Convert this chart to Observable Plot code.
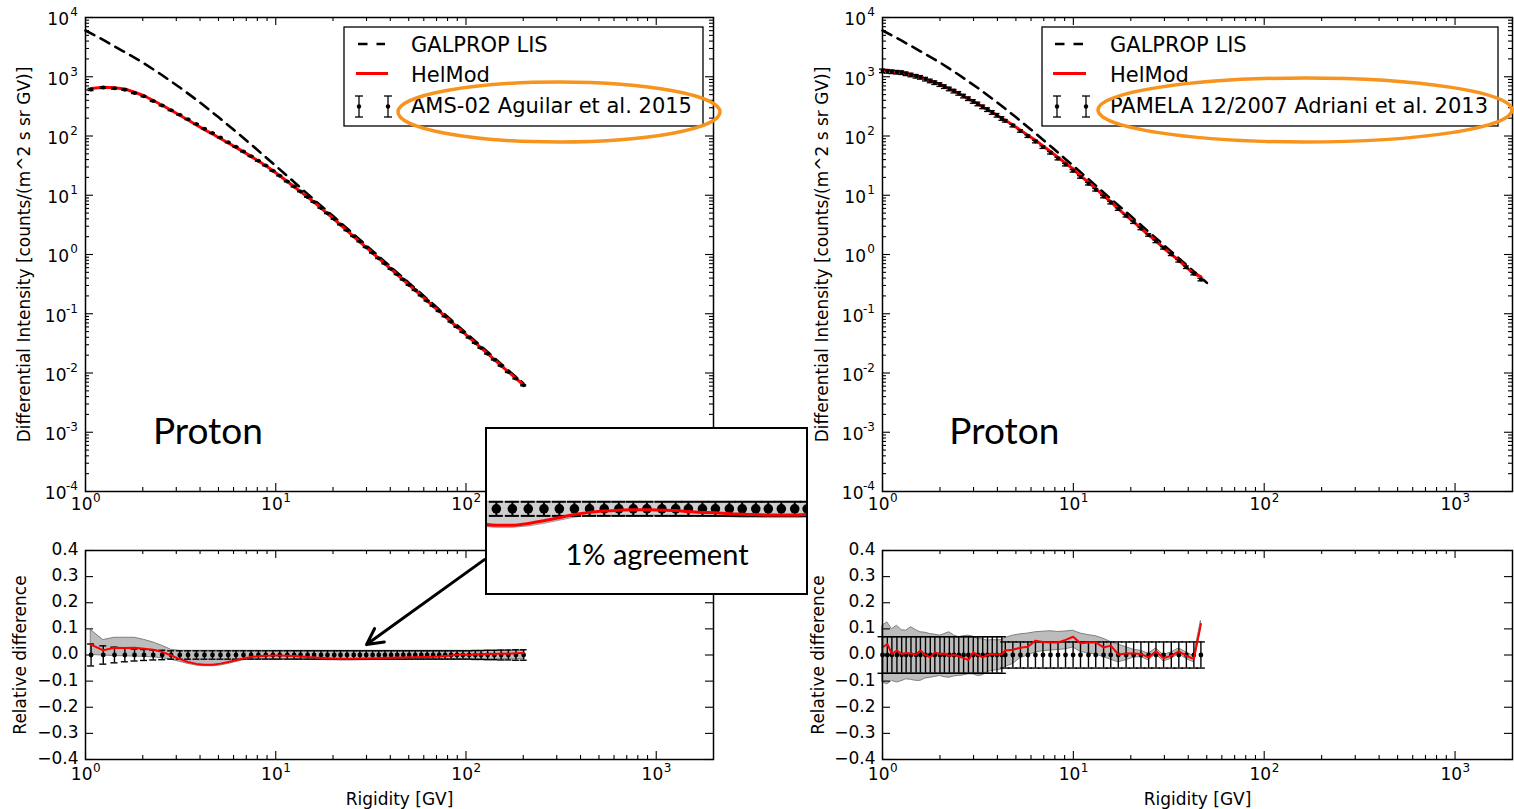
<!DOCTYPE html>
<html><head><meta charset="utf-8">
<script src="https://cdn.jsdelivr.net/npm/d3@7"></script>
<script src="https://cdn.jsdelivr.net/npm/@observablehq/plot@0.6"></script>
<style>
body{margin:0;background:#fff;}
#chart{position:relative;width:1514px;height:809px;overflow:hidden;font-family:"DejaVu Sans",sans-serif;background:#fff;}
</style></head><body><div id="chart"></div>
<script>
// ---------------- data ----------------
// AMS-02 (left panels)
const amsR = [1.07,1.24,1.42,1.61,1.81,2.03,2.27,2.53,2.82,3.13,3.46,3.83,4.22,4.65,5.12,5.63,6.18,6.77,7.42,8.11,8.86,9.67,10.5,11.5,12.5,13.5,14.7,15.9,17.3,18.7,20.3,21.9,23.7,25.7,27.7,29.9,32.3,34.8,37.5,40.4,43.5,46.8,50.3,54.1,58.2,62.5,67.2,72.3,77.7,83.5,89.7,96.4,104,112,120,130,141,153,167,183,201];
const amsFlux = [610,656,637,605,532,467,389,327,272,228,191,159,133,112,94.0,78.2,65.6,54.7,45.7,38.1,31.7,25.9,21.4,17.1,14.0,11.6,9.38,7.71,6.12,4.97,3.98,3.21,2.56,2.04,1.66,1.33,1.07,0.867,0.703,0.571,0.464,0.377,0.306,0.251,0.204,0.166,0.136,0.111,0.0904,0.0734,0.0601,0.0491,0.0396,0.0322,0.0265,0.0211,0.0168,0.0133,0.0104,0.00807,0.00619];
const amsErr = [0.042,0.035,0.030,0.026,0.023,0.021,0.019,0.018,0.016,0.016,0.016,0.016,0.016,0.016,0.016,0.016,0.016,0.016,0.016,0.016,0.016,0.016,0.016,0.016,0.016,0.016,0.016,0.016,0.016,0.016,0.016,0.016,0.016,0.016,0.016,0.016,0.016,0.016,0.016,0.016,0.016,0.016,0.016,0.016,0.016,0.016,0.016,0.016,0.016,0.016,0.016,0.016,0.016,0.017,0.017,0.018,0.018,0.019,0.019,0.020,0.020];
const amsRel = [0.040,0.018,0.028,0.027,0.028,0.024,0.020,0.012,-0.002,-0.016,-0.027,-0.034,-0.037,-0.037,-0.033,-0.027,-0.020,-0.013,-0.008,-0.005,-0.003,-0.002,-0.002,-0.003,-0.004,-0.006,-0.008,-0.009,-0.011,-0.012,-0.013,-0.014,-0.014,-0.014,-0.013,-0.013,-0.012,-0.012,-0.011,-0.011,-0.010,-0.010,-0.009,-0.009,-0.008,-0.008,-0.007,-0.006,-0.004,-0.002,0.001,0.003,-0.001,0.004,0.002,0.005,0.004,0.006,0.005,0.007,0.008];
const amsBandHi = [0.095,0.057,0.066,0.066,0.066,0.058,0.048,0.035,0.020,0.016,0.016,0.016,0.016,0.016,0.016,0.016,0.016,0.016,0.016,0.016,0.016,0.016,0.016,0.016,0.016,0.016,0.016,0.016,0.016,0.016,0.016,0.016,0.016,0.016,0.016,0.016,0.016,0.016,0.016,0.016,0.016,0.016,0.016,0.016,0.016,0.016,0.016,0.016,0.016,0.016,0.016,0.016,0.016,0.016,0.016,0.016,0.016,0.016,0.016,0.016,0.016];
const amsBandLo = [0.0,-0.002,-0.004,-0.005,-0.006,-0.007,-0.009,-0.012,-0.018,-0.026,-0.034,-0.040,-0.043,-0.043,-0.040,-0.034,-0.027,-0.020,-0.016,-0.016,-0.016,-0.016,-0.016,-0.016,-0.016,-0.016,-0.017,-0.018,-0.019,-0.020,-0.020,-0.021,-0.021,-0.021,-0.020,-0.020,-0.019,-0.019,-0.018,-0.018,-0.017,-0.017,-0.016,-0.016,-0.016,-0.016,-0.016,-0.016,-0.016,-0.016,-0.016,-0.016,-0.016,-0.016,-0.016,-0.016,-0.016,-0.016,-0.016,-0.016,-0.016];

// PAMELA 12/2007 (right panels)
const pamR = [1.00,1.06,1.12,1.19,1.26,1.33,1.41,1.50,1.58,1.68,1.78,1.88,2.00,2.11,2.24,2.37,2.51,2.66,2.82,2.99,3.16,3.35,3.55,3.76,3.98,4.22,4.40,4.82,5.28,5.78,6.33,6.93,7.59,8.31,9.10,9.97,10.9,12.0,13.1,14.4,15.7,17.2,18.9,20.7,22.6,24.8,27.1,29.7,32.6,35.7,39.1,42.8,46.6];
const pamFlux = [1259,1236,1216,1195,1175,1125,1074,1021,979,912,851,796,738,682,624,573,525,473,427,384,348,311,279,250,224,198,181,150,122,99.5,80.7,64.9,52.2,41.6,32.9,25.9,20.4,15.7,12.4,9.53,7.52,5.86,4.52,3.52,2.76,2.14,1.67,1.30,1.01,0.785,0.611,0.477,0.378];
const pamErr = [0.07,0.07,0.07,0.07,0.07,0.07,0.07,0.07,0.07,0.07,0.07,0.07,0.07,0.07,0.07,0.07,0.07,0.07,0.07,0.07,0.07,0.07,0.07,0.07,0.07,0.07,0.05,0.05,0.05,0.05,0.05,0.05,0.05,0.05,0.05,0.05,0.05,0.05,0.05,0.05,0.05,0.05,0.05,0.05,0.05,0.05,0.05,0.05,0.05,0.05,0.05,0.05,0.05];
const pamRel = [0.029,0.042,0.004,0.017,0.004,0.008,0.006,0.002,0.017,0.0,-0.009,0.010,0.004,0.006,-0.003,0.0,-0.005,-0.012,-0.019,0.010,0.0,-0.009,0.0,0.004,0.002,0.004,0.017,0.020,0.028,0.032,0.055,0.050,0.048,0.048,0.058,0.070,0.045,0.048,0.048,0.029,0.036,0.002,0.006,0.006,0.004,-0.009,0.014,-0.012,-0.003,0.014,-0.003,-0.016,0.119];
const pamBandHi = [0.112,0.125,0.099,0.112,0.095,0.093,0.106,0.095,0.087,0.085,0.080,0.078,0.074,0.080,0.087,0.075,0.068,0.072,0.074,0.070,0.061,0.060,0.055,0.057,0.056,0.057,0.065,0.074,0.079,0.082,0.087,0.089,0.091,0.088,0.090,0.093,0.082,0.076,0.072,0.062,0.050,0.040,0.030,0.020,0.016,0.005,0.025,0.000,0.010,0.025,0.010,-0.004,0.130];
const pamBandLo = [-0.105,-0.112,-0.099,-0.105,-0.100,-0.093,-0.095,-0.099,-0.099,-0.090,-0.087,-0.084,-0.080,-0.085,-0.087,-0.082,-0.080,-0.078,-0.074,-0.074,-0.080,-0.078,-0.065,-0.061,-0.058,-0.055,-0.045,-0.035,-0.012,-0.002,0.010,0.014,0.017,0.019,0.022,0.029,0.012,0.006,0.002,-0.008,-0.018,-0.028,-0.020,-0.010,-0.008,-0.020,0.003,-0.024,-0.015,0.003,-0.015,-0.028,0.100];

// GALPROP LIS
const lisR = [1,1.26,1.58,2,2.51,3.16,3.98,5.01,6.31,7.94,10,12.6,15.8,20,25.1,31.6,39.8,50.1,63.1,79.4,100,126,158,200];
const lisFlux = [6030,4070,2690,1740,1080,646,372,207,112,59.6,31.3,16.3,8.53,4.46,2.33,1.22,0.635,0.332,0.173,0.0906,0.0473,0.0247,0.0129,0.00675];

// ticks and labels
const xMajor = [1,10,100,1000];
const yTopMajor = [1e-4,1e-3,1e-2,1e-1,1,10,100,1000,1e4];
const relTicks = [-0.4,-0.3,-0.2,-0.1,0,0.1,0.2,0.3,0.4];
const legendLeft = ["GALPROP LIS","HelMod","AMS-02 Aguilar et al. 2015"];
const legendRight = ["GALPROP LIS","HelMod","PAMELA 12/2007 Adriani et al. 2013"];
const yLabelTop = "Differential Intensity [counts/(m^2 s sr GV)]";
const yLabelBottom = "Relative difference";
const xLabel = "Rigidity [GV]";
const panelText = "Proton";
const insetText = "1% agreement";
const arrowSpec = [{r1:125, v1:0.365, r2:30, v2:0.04}];

// ---------------- helpers ----------------
const W = 1514, H = 809, FONT = "DejaVu Sans";
const root = document.getElementById("chart");
const xMinor = []; for (const k of [1,10,100]) for (let m=2;m<=9;m++) xMinor.push(m*k);
const yTopMinor = []; for (const k of yTopMajor.slice(0,-1)) for (let m=2;m<=9;m++) yTopMinor.push(m*k);
const expLabel = d => String(Math.round(Math.log10(d)));
const fmtRel = d3.format(".1f");

const ams = amsR.map((r,i)=>({r, f:amsFlux[i], e:amsErr[i], rel:amsRel[i], hi:amsBandHi[i], lo:amsBandLo[i]}));
const pam = pamR.map((r,i)=>({r, f:pamFlux[i], e:pamErr[i], rel:pamRel[i], hi:pamBandHi[i], lo:pamBandLo[i]}));
const lis = lisR.map((r,i)=>({r, f:lisFlux[i]}));

function place(node){node.style.position="absolute";node.style.left="0px";node.style.top="0px";root.appendChild(node);}

function axesMarks({yLo,yHi,yMajor,yMinor}){
  const s={stroke:"black",strokeWidth:1.1};
  const m=[
    Plot.ruleX(xMajor,{x:d=>d,y1:yLo,y2:yLo,insetTop:-8,...s}),
    Plot.ruleX(xMajor,{x:d=>d,y1:yHi,y2:yHi,insetBottom:-8,...s}),
    Plot.ruleX(xMinor,{x:d=>d,y1:yLo,y2:yLo,insetTop:-4,...s}),
    Plot.ruleX(xMinor,{x:d=>d,y1:yHi,y2:yHi,insetBottom:-4,...s}),
    Plot.ruleY(yMajor,{y:d=>d,x1:1,x2:1,insetRight:-8,...s}),
    Plot.ruleY(yMajor,{y:d=>d,x1:2000,x2:2000,insetLeft:-8,...s})
  ];
  if (yMinor) m.push(
    Plot.ruleY(yMinor,{y:d=>d,x1:1,x2:1,insetRight:-4,...s}),
    Plot.ruleY(yMinor,{y:d=>d,x1:2000,x2:2000,insetLeft:-4,...s}));
  m.push(Plot.frame({stroke:"black",strokeWidth:1.5}));
  return m;
}
function xLabels(yLo, d1, d2){
  return [
    Plot.text(xMajor,{x:d=>d,y:yLo,text:()=>"10",textAnchor:"end",dx:7,dy:d1,fontSize:17,fontFamily:FONT}),
    Plot.text(xMajor,{x:d=>d,y:yLo,text:expLabel,textAnchor:"start",dx:7.5,dy:d2,fontSize:12,fontFamily:FONT})
  ];
}
function logYLabels(){
  const pos=yTopMajor.filter(d=>d>=1), neg=yTopMajor.filter(d=>d<1);
  return [
    Plot.text(pos,{x:1,y:d=>d,text:()=>"10",textAnchor:"end",dx:-16.5,dy:2.5,fontSize:17,fontFamily:FONT}),
    Plot.text(neg,{x:1,y:d=>d,text:()=>"10",textAnchor:"end",dx:-19,dy:2.5,fontSize:17,fontFamily:FONT}),
    Plot.text(yTopMajor,{x:1,y:d=>d,text:expLabel,textAnchor:"end",dx:-7.5,dy:-5,fontSize:12,fontFamily:FONT})
  ];
}
function relYLabels(){
  return [Plot.text(relTicks,{x:1,y:d=>d,text:fmtRel,textAnchor:"end",dx:-7,dy:-1,fontSize:17,fontFamily:FONT})];
}
function errMarks(rows, yv, lo, hi, cap, sw){
  return [
    Plot.ruleX(rows,{x:"r",y1:lo,y2:hi,stroke:"black",strokeWidth:sw}),
    Plot.ruleY(rows,{y:lo,x1:"r",x2:"r",insetLeft:-cap,insetRight:-cap,stroke:"black",strokeWidth:sw}),
    Plot.ruleY(rows,{y:hi,x1:"r",x2:"r",insetLeft:-cap,insetRight:-cap,stroke:"black",strokeWidth:sw})
  ];
}
function panel({fx0,fx1,fy0,fy1,yType,yDomain,marks}){
  return Plot.plot({
    width:W,height:H,
    marginLeft:fx0,marginRight:W-fx1,marginTop:fy0,marginBottom:H-fy1,
    x:{type:"log",domain:[1,2000],axis:null},
    y:{type:yType,domain:yDomain,axis:null},
    style:{background:"transparent",fontFamily:FONT,overflow:"visible"},
    marks
  });
}
function topPanel(fx0,fx1,rows,lisRows,labelDx,protonX){
  return panel({fx0,fx1,fy0:17,fy1:491,yType:"log",yDomain:[1e-4,1e4],marks:[
    Plot.line(lisRows,{x:"r",y:"f",stroke:"black",strokeWidth:2.6,strokeDasharray:"10,7"}),
    Plot.line(rows,{x:"r",y:d=>d.f*(1+d.rel),stroke:"#ff0000",strokeWidth:3}),
    ...errMarks(rows,"f",d=>d.f*(1-d.e),d=>d.f*(1+d.e),3,1.3),
    Plot.dot(rows,{x:"r",y:"f",r:2,fill:"black"}),
    Plot.text([panelText],{x:protonX,y:1e-3,text:d=>d,fontSize:37,fontFamily:"Lato"}),
    ...axesMarks({yLo:1e-4,yHi:1e4,yMajor:yTopMajor,yMinor:yTopMinor}),
    ...xLabels(1e-4,13,7),
    ...logYLabels(),
    Plot.text([yLabelTop],{x:1,y:1,text:d=>d,rotate:-90,dx:labelDx,fontSize:17,fontFamily:FONT})
  ]});
}
function bottomPanel(fx0,fx1,rows,cap,labelDx,extra){
  return panel({fx0,fx1,fy0:550,fy1:759,yType:"linear",yDomain:[-0.4,0.4],marks:[
    Plot.areaY(rows,{x:"r",y1:"lo",y2:"hi",fill:"#bcbcbc",stroke:"#7f7f7f",strokeWidth:1}),
    ...errMarks(rows,0,d=>-d.e,d=>d.e,cap,1.4),
    Plot.dot(rows,{x:"r",y:0,r:2.4,fill:"black"}),
    Plot.line(rows,{x:"r",y:"rel",stroke:"#ff0000",strokeWidth:2}),
    ...extra,
    ...axesMarks({yLo:-0.4,yHi:0.4,yMajor:relTicks}),
    ...xLabels(-0.4,15,8.5),
    ...relYLabels(),
    Plot.text([yLabelBottom],{x:1,y:0,text:d=>d,rotate:-90,dx:labelDx,fontSize:17,fontFamily:FONT}),
    Plot.text([xLabel],{x:Math.sqrt(2000),y:-0.4,text:d=>d,dy:40,fontSize:17,fontFamily:FONT})
  ]});
}

// ---------------- panels ----------------
place(topPanel(85,713,ams,lis,-61,4.4));
place(bottomPanel(85,713,ams,3.5,-65,[
  Plot.arrow(arrowSpec,{x1:"r1",y1:"v1",x2:"r2",y2:"v2",stroke:"black",strokeWidth:3,headLength:9,headAngle:55})
]));
place(topPanel(882,1512,pam,lis.filter(d=>d.r<=50.1),-60,4.35));
place(bottomPanel(882,1512,pam,4.5,-64,[]));

// ---------------- legends and highlight ellipses ----------------
const ov = d3.create("svg").attr("width",W).attr("height",H).style("pointer-events","none");
function legend(x0,x1,sx0,sx1,e1,e2,tx,labels){
  const g = ov.append("g");
  g.append("rect").attr("x",x0).attr("y",27).attr("width",x1-x0).attr("height",99)
    .attr("fill","white").attr("stroke","black").attr("stroke-width",1.3);
  g.append("line").attr("x1",sx0).attr("x2",sx1).attr("y1",44).attr("y2",44)
    .attr("stroke","black").attr("stroke-width",2.6).attr("stroke-dasharray","9.5,9");
  g.append("line").attr("x1",sx0-2).attr("x2",sx1+3).attr("y1",73.5).attr("y2",73.5)
    .attr("stroke","#ff0000").attr("stroke-width",3);
  for (const ex of [e1,e2]) {
    g.append("line").attr("x1",ex).attr("x2",ex).attr("y1",96).attr("y2",117).attr("stroke","black").attr("stroke-width",1.3);
    g.append("line").attr("x1",ex-4).attr("x2",ex+4).attr("y1",96).attr("y2",96).attr("stroke","black").attr("stroke-width",1.3);
    g.append("line").attr("x1",ex-4).attr("x2",ex+4).attr("y1",117).attr("y2",117).attr("stroke","black").attr("stroke-width",1.3);
    g.append("circle").attr("cx",ex).attr("cy",106.5).attr("r",2.2).attr("fill","black");
  }
  labels.forEach((t,i)=>{
    g.append("text").attr("x",tx).attr("y",[51.5,81.5,113][i]).text(t)
      .attr("font-family",FONT).attr("font-size",21).attr("fill","black");
  });
}
legend(344,703,358,385,359,388,411,legendLeft);
legend(1042,1498,1055,1083,1057,1086,1110,legendRight);
ov.append("ellipse").attr("cx",559).attr("cy",112).attr("rx",161).attr("ry",30)
  .attr("fill","none").attr("stroke","#f7941e").attr("stroke-width",3.5);
ov.append("ellipse").attr("cx",1305).attr("cy",110).attr("rx",207).attr("ry",32)
  .attr("fill","none").attr("stroke","#f7941e").attr("stroke-width",3.5);
place(ov.node());

// ---------------- magnified inset ----------------
const insetDiv = document.createElement("div");
Object.assign(insetDiv.style,{position:"absolute",left:"485px",top:"427px",width:"323px",height:"168px",
  border:"2px solid black",boxSizing:"border-box",background:"white",overflow:"hidden"});
const insetPlot = Plot.plot({
  width:319,height:164,margin:0,
  x:{type:"log",domain:[4.0,27.6],axis:null},
  y:{domain:[-0.192,0.18],axis:null},
  style:{background:"white",display:"block"},
  marks:[
    Plot.areaY(ams,{x:"r",y1:"lo",y2:"hi",fill:"#cfcfcf",stroke:"#9a9a9a",strokeWidth:1,clip:true}),
    Plot.ruleX(ams,{x:"r",y1:d=>-d.e,y2:d=>d.e,stroke:"black",strokeWidth:2,clip:true}),
    Plot.ruleY(ams,{y:d=>-d.e,x1:"r",x2:"r",insetLeft:-7,insetRight:-7,stroke:"black",strokeWidth:2,clip:true}),
    Plot.ruleY(ams,{y:d=>d.e,x1:"r",x2:"r",insetLeft:-7,insetRight:-7,stroke:"black",strokeWidth:2,clip:true}),
    Plot.dot(ams,{x:"r",y:0,r:4.8,fill:"black",clip:true}),
    Plot.line(ams,{x:"r",y:"rel",stroke:"#ff0000",strokeWidth:3,curve:"monotone-x",clip:true}),
    Plot.text([insetText],{frameAnchor:"bottom",dx:10,dy:-29,text:d=>d,fontSize:29,fontFamily:"Lato",fill:"black"})
  ]
});
insetDiv.appendChild(insetPlot);
root.appendChild(insetDiv);
</script></body></html>
